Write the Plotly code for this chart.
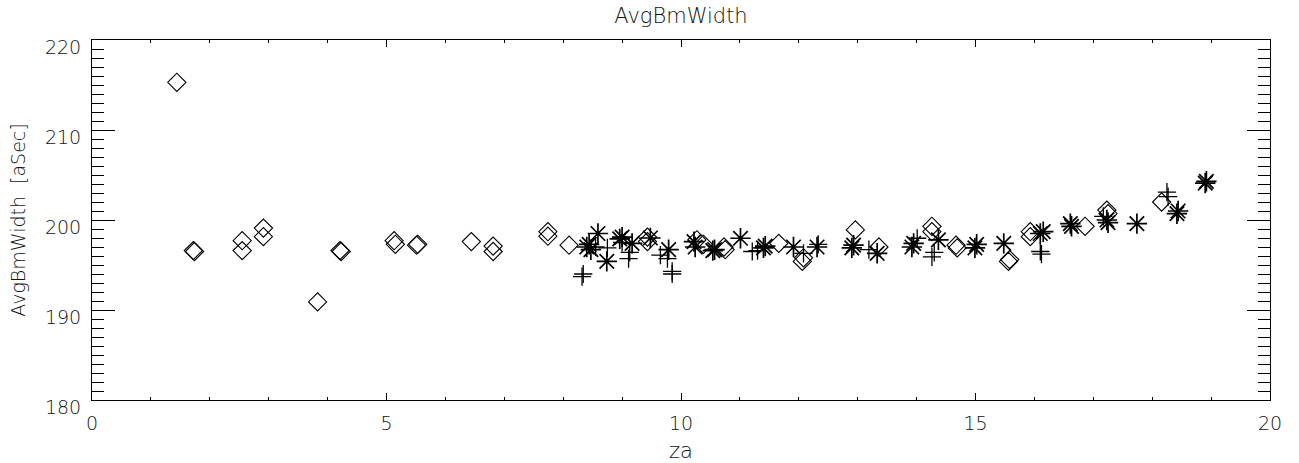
import plotly.graph_objects as go

# Diamond series
dia_x = [1.44, 1.72, 1.74, 2.55, 2.55, 2.91, 2.91, 3.83, 4.21, 4.23, 5.13, 5.15, 5.51, 5.53,
         6.44, 6.81, 6.81, 7.74, 7.74, 8.10, 9.43, 9.43, 10.27, 10.38, 10.73, 10.75, 11.66,
         12.06, 12.08, 12.96, 13.36, 14.26, 14.26, 14.67, 14.69, 15.56, 15.58, 15.93, 15.93,
         16.86, 17.23, 17.25, 18.16]
dia_y = [215.3, 196.6, 196.5, 197.7, 196.6, 199.1, 198.15, 190.9, 196.6, 196.5, 197.7, 197.3, 197.2, 197.3,
         197.6, 197.1, 196.5, 198.7, 198.2, 197.2, 198.1, 197.6, 197.8, 197.3, 197.0, 196.7, 197.4,
         195.4, 195.8, 198.9, 197.0, 199.3, 198.7, 197.2, 196.9, 195.4, 195.6, 198.7, 198.15,
         199.3, 201.1, 200.7, 202.0]

# Plus series
plus_x = [8.32, 8.34, 8.55, 8.75, 9.00, 9.11, 9.13, 9.65, 9.77, 9.85, 9.85, 11.21, 11.30,
          12.08, 12.33, 13.19, 14.01, 14.26, 14.30, 16.10, 16.12, 17.17, 18.25, 18.27]
plus_y = [193.7, 194.0, 197.0, 196.9, 197.5, 195.7, 196.4, 196.1, 195.7, 194.3, 194.0, 196.5, 196.6,
          196.3, 197.3, 196.7, 197.97, 195.9, 196.4, 196.5, 196.2, 200.4, 203.1, 202.6]

# Asterisk series
ast_x = [8.40, 8.44, 8.47, 8.59, 8.74, 8.96, 9.00, 9.17, 9.48, 9.79, 10.22, 10.24, 10.54, 10.57,
         11.01, 11.40, 11.43, 11.91, 12.31, 12.90, 12.93, 13.33, 13.92, 13.95, 14.37, 14.99, 15.02,
         15.48, 16.10, 16.15, 16.61, 16.63, 17.23, 17.25, 17.74, 18.42, 18.44, 18.90, 18.92]
ast_y = [197.0, 197.3, 196.7, 198.5, 195.4, 197.9, 198.1, 197.4, 198.0, 196.7, 197.6, 197.0, 196.6, 196.7,
         197.97, 196.9, 197.1, 197.0, 197.0, 196.9, 197.2, 196.3, 197.0, 197.4, 197.8, 196.9, 197.3,
         197.4, 198.5, 198.7, 199.6, 199.3, 200.0, 199.7, 199.6, 200.7, 201.0, 204.1, 204.3]

FONT = "DejaVu Sans"
TXT = "#111111"
W, H = 1299, 463

fig = go.Figure()
fig.add_trace(go.Scatter(x=dia_x, y=dia_y, mode="markers",
                         marker=dict(symbol="diamond-open", size=14, color="black",
                                     line=dict(width=1.1, color="black"))))
fig.add_trace(go.Scatter(x=plus_x, y=plus_y, mode="markers",
                         marker=dict(symbol="cross-thin-open", size=13, color="black",
                                     line=dict(width=1.3, color="black"))))
fig.add_trace(go.Scatter(x=ast_x, y=ast_y, mode="markers",
                         marker=dict(symbol="asterisk-open", size=17, color="black",
                                     line=dict(width=1.7, color="black"))))

fig.update_layout(
    width=W, height=H,
    margin=dict(l=92, r=29, t=40, b=63),
    paper_bgcolor="white", plot_bgcolor="white",
    showlegend=False,
    font=dict(family=FONT, size=19, color=TXT),
    title=dict(text="AvgBmWidth", x=0.5, xref="paper", xanchor="center",
               y=1 - 16 / H, yref="container", yanchor="middle",
               font=dict(family=FONT, size=21, color=TXT, weight=300)),
)
fig.update_xaxes(
    range=[0, 20], dtick=5, tick0=0, showgrid=False, zeroline=False, automargin=False,
    showline=True, linecolor="black", linewidth=1, mirror="allticks",
    ticks="inside", ticklen=7, tickcolor="black", tickwidth=1,
    minor=dict(dtick=1, ticks="inside", ticklen=3, tickcolor="black", showgrid=False),
    ticklabelstandoff=6,
    title=dict(text="za", font=dict(family=FONT, size=21, color=TXT, weight=300), standoff=25),
    tickfont=dict(family=FONT, size=19, color=TXT, weight=300),
)
fig.update_yaxes(
    range=[180, 220], dtick=10, tick0=180, showgrid=False, zeroline=False, automargin=False,
    showline=True, linecolor="black", linewidth=1, mirror="allticks",
    ticks="inside", ticklen=23, tickcolor="black", tickwidth=1,
    minor=dict(dtick=1, ticks="inside", ticklen=12, tickcolor="black", showgrid=False),
    ticklabelshift=7, ticklabelstandoff=6,
    title=dict(text="AvgBmWidth  [aSec]", font=dict(family=FONT, size=19, color=TXT, weight=300), standoff=14),
    tickfont=dict(family=FONT, size=19, color=TXT, weight=300),
)

fig.write_html("out.html", config={"displayModeBar": False},
               post_script="document.body.style.margin='0';document.body.style.overflow='hidden';")
